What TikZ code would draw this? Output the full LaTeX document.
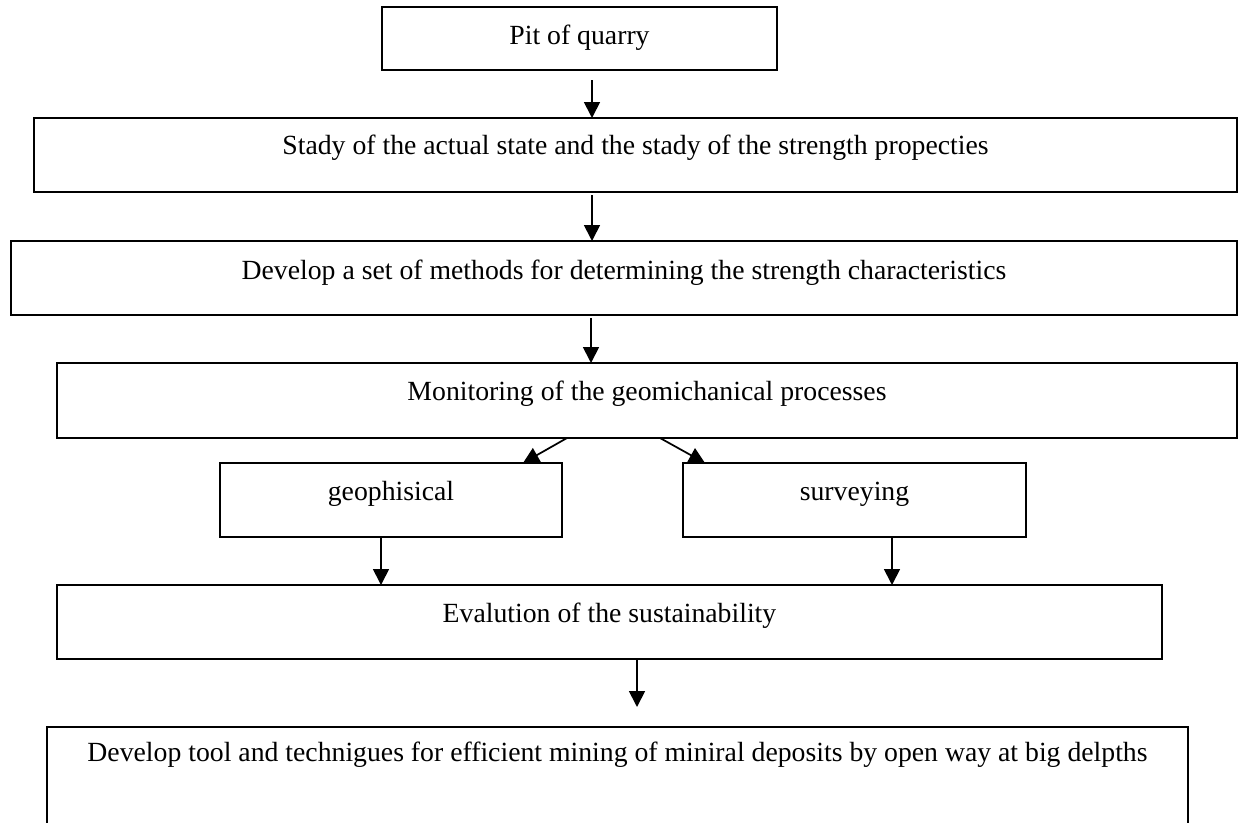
\documentclass[tikz,border=0pt]{standalone}
\usepackage{fontspec}
\setmainfont{Liberation Serif}
\usetikzlibrary{arrows.meta,calc}
\begin{document}
\begin{tikzpicture}[x=0.75pt,y=-0.75pt,
  box/.style={draw=black,line width=1.5pt,rectangle,inner sep=0pt,outer sep=0pt,fill=white},
  txt/.style={inner sep=0pt,font=\fontsize{20.8}{24}\selectfont},
  arr/.style={draw=black,line width=1.3pt,-{Triangle[width=12pt,length=12pt]}}]
\useasboundingbox (0,0) rectangle (1239,822);
\clip (0,0) rectangle (1239,822);
% boxes
\node[box,minimum width=395*0.75pt,minimum height=63*0.75pt] (b1) at (579.5,38.5) {};
\node[box,minimum width=1203*0.75pt,minimum height=74*0.75pt] (b2) at (635.5,155) {};
\node[box,minimum width=1226*0.75pt,minimum height=74*0.75pt] (b3) at (624,278) {};
\node[box,minimum width=1180*0.75pt,minimum height=75*0.75pt] (b4) at (647,400.5) {};
\node[box,minimum width=342*0.75pt,minimum height=74*0.75pt] (geo) at (391,500) {};
\node[box,minimum width=343*0.75pt,minimum height=74*0.75pt] (sur) at (854.5,500) {};
\node[box,minimum width=1105*0.75pt,minimum height=74*0.75pt] (ev) at (609.5,622) {};
\node[box,minimum width=1141*0.75pt,minimum height=133*0.75pt] (last) at (617.5,793.5) {};
% texts
\node[txt] (t1) at ($(b1.north)+(0,31)$) {Pit of quarry};
\node[txt] (t2) at ($(b2.north)+(0,30)$) {Stady of the actual state and the stady of the strength propecties};
\node[txt] (t3) at ($(b3.north)+(0,32)$) {Develop a set of methods for determining the strength characteristics};
\node[txt] (t4) at ($(b4.north)+(0,31)$) {Monitoring of the geomichanical processes};
\node[txt] (tg) at ($(geo.north)+(0,31)$) {geophisical};
\node[txt] (ts) at ($(sur.north)+(0,31)$) {surveying};
\node[txt] (te) at ($(ev.north)+(0,31)$) {Evalution of the sustainability};
\node[txt] (tl) at ($(last.north)+(0,28)$) {Develop tool and technigues for efficient mining of miniral deposits by open way at big delpths};
% arrows
\coordinate (xa) at (592,0);
\coordinate (xb) at (591,0);
\draw[arr] ($(b1.south -| xa)+(0,10)$) -- (b2.north -| xa);
\draw[arr] ($(b2.south -| xa)+(0,3)$) -- (b3.north -| xa);
\draw[arr] ($(b3.south -| xb)+(0,3)$) -- (b4.north -| xb);
\draw[arr] ($(b4.south)+(-80,0)$) -- ($(geo.north)+(132,0)$);
\draw[arr] ($(b4.south)+(13,0)$) -- ($(sur.north)+(-149.5,0)$);
\draw[arr] ($(geo.south)+(-10,0)$) -- ($(geo.south |- ev.north)+(-10,0)$);
\draw[arr] ($(sur.south)+(37.5,0)$) -- ($(sur.south |- ev.north)+(37.5,0)$);
\draw[arr] ($(ev.south)+(27.5,0)$) -- ($(ev.south |- last.north)+(27.5,-20)$);
\end{tikzpicture}
\end{document}
